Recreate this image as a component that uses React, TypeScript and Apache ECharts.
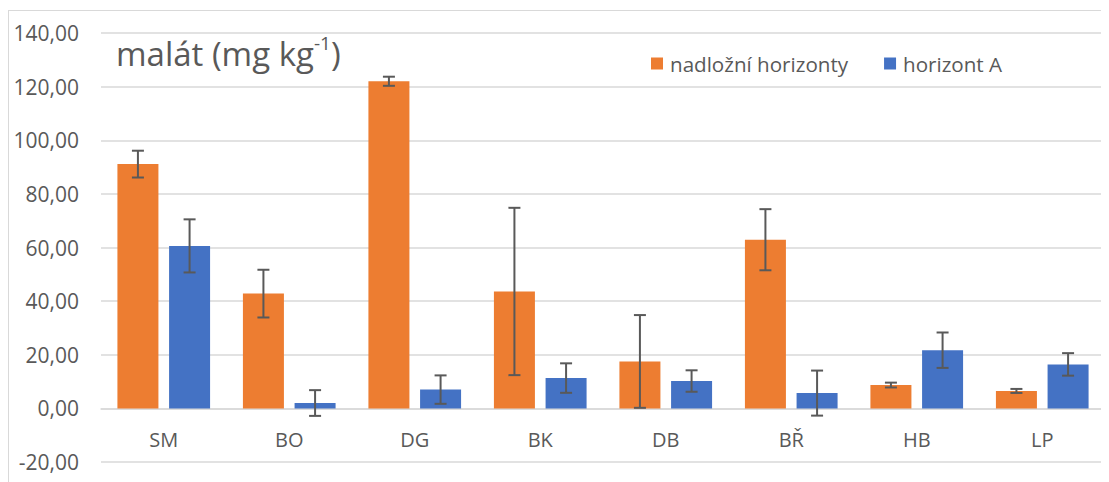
import React, { useEffect, useRef } from "react";
import * as echarts from "echarts";

const categories = ["SM", "BO", "DG", "BK", "DB", "BŘ", "HB", "LP"];
const nadlozni = [91.1, 42.8, 122.0, 43.6, 17.5, 62.9, 8.7, 6.5];
const nadlozniErr = [5.0, 8.9, 1.7, 31.2, 17.3, 11.4, 0.9, 0.75];
const horizontA = [60.6, 2.0, 7.0, 11.3, 10.2, 5.7, 21.7, 16.4];
const horizontAErr = [9.9, 4.8, 5.3, 5.5, 4.0, 8.4, 6.6, 4.2];
const seriesNames = ["nadložní horizonty", "horizont A"];
const yTicks = { min: -20, max: 140, interval: 20 };

const FONT = "'Open Sans', sans-serif";
const TEXT = "#595959";
const GRID = "#d9d9d9";
const BAR_W = 41;
const BAR_GAP = 0.26;

const GRID_TOP = 22;
const GRID_BOTTOM = 20;
const CHART_H = 471;

function errorSeries(values: number[], errs: number[], sign: number) {
  return {
    type: "custom",
    silent: true,
    z: 10,
    data: values.map((v, i) => [i, v - errs[i], v + errs[i]]),
    renderItem: (params: any, api: any) => {
      const i = api.value(0);
      const lo = api.coord([i, api.value(1)]);
      const hi = api.coord([i, api.value(2)]);
      const off = sign * (BAR_W / 2 + (BAR_W * BAR_GAP) / 2);
      const x = lo[0] + off;
      const cap = 6;
      const style = { stroke: "#595959", lineWidth: 2 };
      return {
        type: "group",
        children: [
          { type: "line", shape: { x1: x, y1: lo[1], x2: x, y2: hi[1] }, style },
          { type: "line", shape: { x1: x - cap, y1: lo[1], x2: x + cap, y2: lo[1] }, style },
          { type: "line", shape: { x1: x - cap, y1: hi[1], x2: x + cap, y2: hi[1] }, style },
        ],
      };
    },
  };
}

export default function App() {
  const ref = useRef<HTMLDivElement>(null);
  useEffect(() => {
    if (!ref.current) return;
    const chart = echarts.init(ref.current, null, { renderer: "svg" });
    // distance from grid bottom (y = min) up to the zero line
    const plotH = CHART_H - GRID_TOP - GRID_BOTTOM;
    const zeroOffset = (plotH * (0 - yTicks.min)) / (yTicks.max - yTicks.min);
    chart.setOption({
      animation: false,
      textStyle: { fontFamily: FONT },
      title: {
        left: 107,
        top: 22,
        padding: 0,
        text: "{a|malát (mg kg}{s|-1}{a|)}",
        textStyle: {
          fontWeight: "normal",
          rich: {
            a: { fontSize: 33, color: TEXT, fontFamily: FONT, fontWeight: "normal", lineHeight: 40 },
            s: { fontSize: 19, color: TEXT, fontFamily: FONT, fontWeight: "normal", verticalAlign: "top", lineHeight: 40, padding: [0, 0, 16, 0] },
          },
        },
      },
      legend: {
        left: 642,
        top: 42,
        padding: 0,
        itemWidth: 12,
        itemHeight: 12,
        itemGap: 36,
        icon: "rect",
        textStyle: { fontSize: 20.6, color: TEXT, fontFamily: FONT, padding: [0, 0, 0, 2] },
        data: seriesNames,
      },
      grid: { left: 92, right: 4, top: GRID_TOP, bottom: GRID_BOTTOM, containLabel: false, outerBoundsMode: "none" },
      xAxis: {
        type: "category",
        data: categories,
        position: "bottom",
        offset: -zeroOffset,
        axisLine: { show: true, onZero: false, lineStyle: { color: GRID, width: 1.5 } },
        axisTick: { show: false },
        axisLabel: { fontSize: 20, color: TEXT, margin: 21, fontFamily: FONT },
      },
      yAxis: {
        type: "value",
        min: yTicks.min,
        max: yTicks.max,
        interval: yTicks.interval,
        axisLine: { show: false },
        axisTick: { show: false },
        splitLine: { lineStyle: { color: GRID, width: 1.5 } },
        axisLabel: {
          fontSize: 21,
          color: TEXT,
          margin: 22,
          fontFamily: FONT,
          formatter: (v: number) => v.toFixed(2).replace(".", ","),
        },
      },
      series: [
        {
          name: seriesNames[0],
          type: "bar",
          data: nadlozni,
          barWidth: BAR_W,
          barGap: BAR_GAP * 100 + "%",
          itemStyle: { color: "#ED7D31" },
        },
        {
          name: seriesNames[1],
          type: "bar",
          data: horizontA,
          barWidth: BAR_W,
          barGap: BAR_GAP * 100 + "%",
          itemStyle: { color: "#4472C4" },
        },
        errorSeries(nadlozni, nadlozniErr, -1),
        errorSeries(horizontA, horizontAErr, 1),
      ],
    });
    return () => chart.dispose();
  }, []);
  return (
    <div style={{ width: 1101, height: 474, overflow: "hidden", position: "relative" }}>
      <div
        style={{
          position: "absolute",
          left: 0,
          top: 2,
          width: 1120,
          height: 490,
          borderTop: "1px solid #d9d9d9",
          borderLeft: "1px solid #d9d9d9",
        }}
      >
        <div ref={ref} style={{ width: 1100, height: CHART_H }} />
      </div>
    </div>
  );
}
